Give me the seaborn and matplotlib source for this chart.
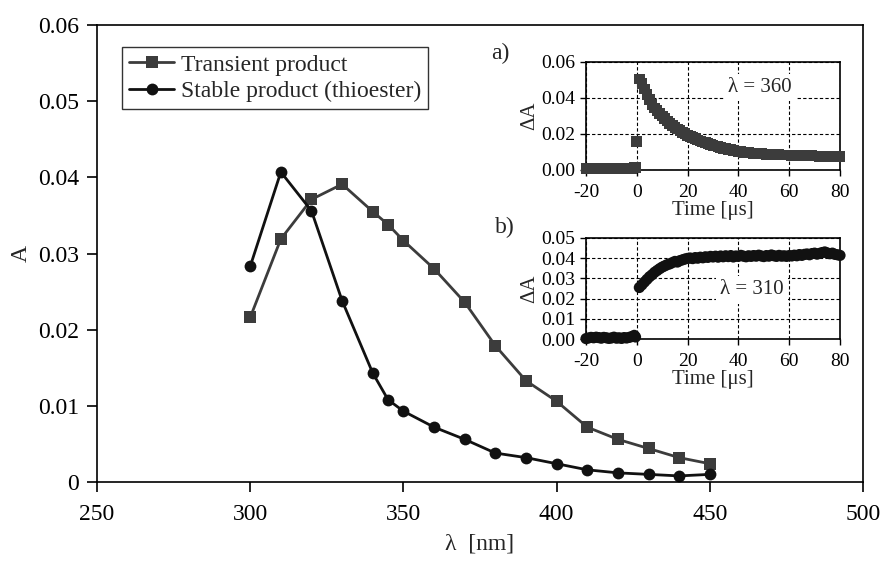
import numpy as np
import pandas as pd
import matplotlib
matplotlib.use("Agg")
import matplotlib.pyplot as plt
from matplotlib.ticker import FuncFormatter, MultipleLocator
import seaborn as sns

# Absorption spectra of the two photoproducts
wavelength = [300, 310, 320, 330, 340, 345, 350, 360, 370, 380, 390, 400, 410, 420, 430, 440, 450]
transient = [0.0216, 0.0319, 0.0371, 0.0391, 0.0355, 0.0338, 0.0317, 0.0280, 0.0236, 0.0179,
             0.0133, 0.0106, 0.0072, 0.0056, 0.0044, 0.0032, 0.0024]
stable = [0.0283, 0.0407, 0.0356, 0.0238, 0.0143, 0.0108, 0.0093, 0.0072, 0.0056, 0.0038,
          0.0032, 0.0024, 0.0016, 0.0012, 0.0010, 0.0008, 0.0010]

# Kinetic trace a) at 360 nm
time_a = ([-20, -19, -18, -17, -16, -15, -14, -13, -12, -11, -10, -9, -8, -7, -6, -5, -4, -3, -2, -1, -0.5, 0.0]
          + list(range(1, 81)))
trace_a = [0.0007, 0.0008, 0.0006, 0.0008, 0.0009, 0.0007, 0.0008, 0.0006, 0.0007, 0.0009,
           0.0008, 0.0007, 0.0009, 0.0008, 0.0006, 0.0008, 0.0009, 0.0010, 0.0009, 0.0012,
           0.0014, 0.0160,
           0.0505, 0.0480, 0.0450, 0.0420, 0.0390, 0.0365, 0.0345, 0.0330, 0.0315, 0.0300,
           0.0285, 0.0272, 0.0260, 0.0249, 0.0238, 0.0228, 0.0219, 0.0210, 0.0201, 0.0193,
           0.0186, 0.0180, 0.0173, 0.0167, 0.0161, 0.0156, 0.0151, 0.0146, 0.0141, 0.0137,
           0.0133, 0.0129, 0.0125, 0.0121, 0.0118, 0.0115, 0.0112, 0.0109, 0.0106, 0.0103,
           0.0101, 0.0099, 0.0098, 0.0096, 0.0095, 0.0093, 0.0092, 0.0091, 0.0090, 0.0089,
           0.0088, 0.0087, 0.0087, 0.0086, 0.0085, 0.0085, 0.0084, 0.0084, 0.0083, 0.0083,
           0.0082, 0.0082, 0.0081, 0.0081, 0.0080, 0.0080, 0.0080, 0.0079, 0.0079, 0.0078,
           0.0078, 0.0077, 0.0077, 0.0077, 0.0076, 0.0076, 0.0075, 0.0075, 0.0074, 0.0074]

# Kinetic trace b) at 310 nm
time_b = ([-20, -19, -18, -17, -16, -15, -14, -13, -12, -11, -10, -9, -8, -7, -6, -5, -4, -3, -2, -1, -0.5]
          + list(range(1, 81)))
trace_b = [0.0002, 0.0005, 0.0008, 0.0006, 0.0009, 0.0007, 0.0004, 0.0008, 0.0006, 0.0003,
           0.0005, 0.0009, 0.0004, 0.0006, 0.0003, 0.0007, 0.0005, 0.0008, 0.0012, 0.0018,
           0.0010,
           0.0255, 0.0268, 0.0282, 0.0295, 0.0308, 0.0318, 0.0330, 0.0339, 0.0348, 0.0356,
           0.0362, 0.0368, 0.0372, 0.0378, 0.0384, 0.0381, 0.0388, 0.0392, 0.0396, 0.0399,
           0.0401, 0.0398, 0.0403, 0.0400, 0.0405, 0.0402, 0.0407, 0.0404, 0.0409, 0.0406,
           0.0410, 0.0405, 0.0411, 0.0407, 0.0412, 0.0408, 0.0413, 0.0406, 0.0411, 0.0409,
           0.0414, 0.0410, 0.0407, 0.0412, 0.0409, 0.0413, 0.0410, 0.0415, 0.0411, 0.0408,
           0.0413, 0.0410, 0.0416, 0.0412, 0.0409, 0.0414, 0.0410, 0.0412, 0.0409, 0.0413,
           0.0411, 0.0415, 0.0412, 0.0418, 0.0414, 0.0419, 0.0421, 0.0417, 0.0423, 0.0425,
           0.0420, 0.0424, 0.0428, 0.0431, 0.0426, 0.0422, 0.0425, 0.0419, 0.0417, 0.0414]

sns.set_style("white")
plt.rcParams["font.family"] = ["Liberation Serif", "DejaVu Serif"]
plt.rcParams["axes.linewidth"] = 1.2
plt.rcParams["axes.unicode_minus"] = False

fig = plt.figure(figsize=(8.84, 5.63), dpi=100)
ax = fig.add_axes([97 / 884, 1 - 482 / 563, (863 - 97) / 884, (482 - 25) / 563])

grey = "#3c3c3c"
black = "#111111"
spec = pd.DataFrame({"wl": wavelength, "tr": transient, "st": stable})
sns.lineplot(data=spec, x="wl", y="tr", ax=ax, color=grey, lw=2.0, marker="s",
             markersize=8, markeredgewidth=0, label="Transient product")
sns.lineplot(data=spec, x="wl", y="st", ax=ax, color=black, lw=2.0, marker="o",
             markersize=8.5, markeredgewidth=0, label="Stable product (thioester)")

ax.set_xlim(250, 500)
ax.set_ylim(0, 0.06)
ax.xaxis.set_major_locator(MultipleLocator(50))
ax.yaxis.set_major_locator(MultipleLocator(0.01))
ax.yaxis.set_major_formatter(FuncFormatter(lambda v, p: "0" if abs(v) < 1e-9 else f"{v:.2f}"))
ax.tick_params(axis="both", which="major", direction="out", length=7, width=1.2,
               labelsize=17, colors="black", bottom=True, left=True, pad=6)
ax.tick_params(axis="x", pad=9)
for s in ax.spines.values():
    s.set_color("black")
ax.set_xlabel("λ  [nm]", fontsize=17, labelpad=6)
ax.set_ylabel("A", fontsize=17, labelpad=4)

leg = ax.legend(loc="upper left", bbox_to_anchor=(122 / 884, 1 - 47 / 563),
                bbox_transform=fig.transFigure, fontsize=17, frameon=True, fancybox=False,
                edgecolor="black", handlelength=1.9, handletextpad=0.3, borderpad=0.3,
                labelspacing=0.2, borderaxespad=0)
leg.get_frame().set_linewidth(1.0)


def style_inset(a, ymax, ystep):
    a.set_xlim(-20, 80)
    a.set_ylim(0, ymax)
    a.xaxis.set_major_locator(MultipleLocator(20))
    a.yaxis.set_major_locator(MultipleLocator(ystep))
    a.yaxis.set_major_formatter(FuncFormatter(lambda v, p: f"{v:.2f}"))
    a.grid(True, color="black", linestyle=(0, (3, 2)), linewidth=0.8)
    a.tick_params(axis="both", direction="out", length=4, width=1.0, labelsize=14,
                  colors="black", bottom=True, left=True, pad=4)
    a.tick_params(axis="x", pad=6)
    for s in a.spines.values():
        s.set_color("black")
        s.set_linewidth(1.2)
    a.set_xlabel("Time [μs]", fontsize=15, labelpad=0)
    a.set_ylabel("ΔA", fontsize=15, labelpad=1)


ax_a = fig.add_axes([586 / 884, 1 - 170 / 563, 254 / 884, 108 / 563])
sns.scatterplot(x=time_a, y=trace_a, ax=ax_a, marker="s", s=60, color=grey,
                edgecolor="none", clip_on=False, zorder=3)
style_inset(ax_a, 0.06, 0.02)
ax_a.text(48.5, 0.046, "λ = 360", fontsize=15, ha="center", va="center",
          bbox=dict(facecolor="white", edgecolor="none", pad=3))

ax_b = fig.add_axes([586 / 884, 1 - 339 / 563, 254 / 884, 101 / 563])
sns.scatterplot(x=time_b, y=trace_b, ax=ax_b, marker="o", s=65, color=black,
                edgecolor="none", clip_on=False, zorder=3)
style_inset(ax_b, 0.05, 0.01)
ax_b.text(45.4, 0.0243, "λ = 310", fontsize=15, ha="center", va="center",
          bbox=dict(facecolor="white", edgecolor="none", pad=3))

fig.text(500 / 884, 1 - 53 / 563, "a)", fontsize=17, ha="center", va="center")
fig.text(505 / 884, 1 - 227 / 563, "b)", fontsize=17, ha="center", va="center")

fig.savefig("out.png", dpi=100)
